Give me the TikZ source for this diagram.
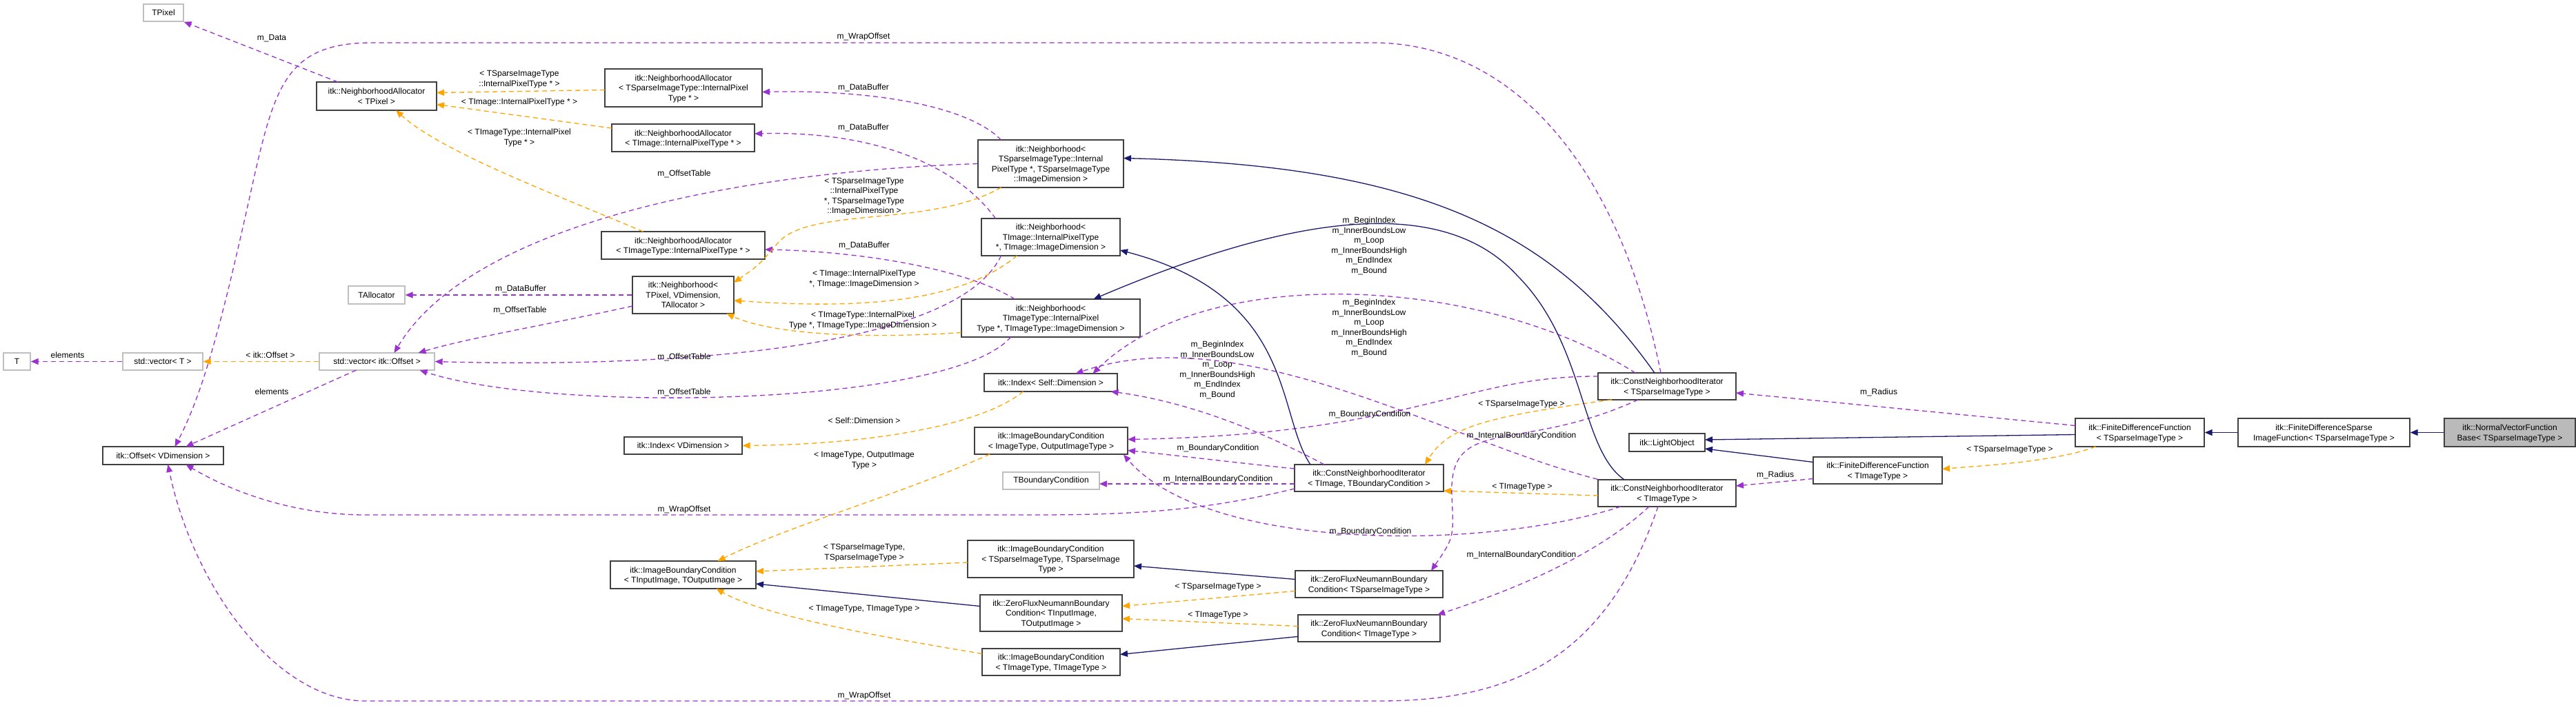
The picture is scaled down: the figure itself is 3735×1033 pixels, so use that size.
\documentclass[tikz,border=0pt]{standalone}
\usepackage{fontspec}
\setmainfont{Liberation Sans}
\usetikzlibrary{arrows.meta,calc}
\definecolor{usec}{HTML}{9A32CD}
\definecolor{tplc}{HTML}{FFA500}
\definecolor{inhc}{HTML}{191970}
\begin{document}
\begin{tikzpicture}[x=1pt,y=-1pt,
  font=\fontsize{12}{14.5}\selectfont,
  box/.style={draw=black!75,line width=1.3pt,fill=white,align=center,inner sep=0pt,text depth=0pt},
  gbox/.style={draw=black!25,line width=1.3pt,fill=white,align=center,inner sep=0pt},
  lbl/.style={align=center,inner sep=0pt,fill=none},
  use/.style={draw=usec,line width=1.3pt,dash pattern=on 7pt off 5pt,-{Triangle[length=11pt,width=9pt]}},
  tpl/.style={draw=tplc,line width=1.3pt,dash pattern=on 7pt off 5pt,-{Triangle[length=11pt,width=9pt]}},
  inh/.style={draw=inhc,line width=1.3pt,-{Triangle[length=11pt,width=9pt]}}]
\useasboundingbox (0,0) rectangle (3735,1033);
\fill[white] (0,0) rectangle (3735,1033);
% nodes
\node[gbox,minimum width=58,minimum height=25] (TPixel) at (237,18.5) {TPixel};
\node[box,minimum width=174,minimum height=41] (NAP) at (546,139.5) {itk::NeighborhoodAllocator\\< TPixel >};
\node[box,minimum width=228,minimum height=55] (NAS) at (991,127.5) {itk::NeighborhoodAllocator\\< TSparseImageType::InternalPixel\\Type * >};
\node[box,minimum width=207,minimum height=40] (NAI) at (990.5,200) {itk::NeighborhoodAllocator\\< TImage::InternalPixelType * >};
\node[box,minimum width=237,minimum height=40] (NAT) at (990.5,356) {itk::NeighborhoodAllocator\\< TImageType::InternalPixelType * >};
\node[gbox,minimum width=82,minimum height=26] (TAlloc) at (546,428) {TAllocator};
\node[box,minimum width=147,minimum height=54] (NbP) at (990.5,428) {itk::Neighborhood<\\TPixel, VDimension,\\TAllocator >};
\node[box,minimum width=211,minimum height=69] (NbS) at (1523.5,237.5) {itk::Neighborhood<\\TSparseImageType::Internal\\PixelType *, TSparseImageType\\::ImageDimension >};
\node[box,minimum width=201,minimum height=54] (NbI) at (1523.5,344) {itk::Neighborhood<\\TImage::InternalPixelType\\*, TImage::ImageDimension >};
\node[box,minimum width=259,minimum height=55] (NbT) at (1523.5,461.5) {itk::Neighborhood<\\TImageType::InternalPixel\\Type *, TImageType::ImageDimension >};
\node[box,minimum width=193,minimum height=26] (IdxS) at (1523.5,555) {itk::Index< Self::Dimension >};
\node[gbox,minimum width=39,minimum height=25] (T) at (24.5,524.5) {T};
\node[gbox,minimum width=116,minimum height=25] (VecT) at (236,524.5) {std::vector< T >};
\node[gbox,minimum width=167,minimum height=25] (VecO) at (546.5,524.5) {std::vector< itk::Offset >};
\node[box,minimum width=175,minimum height=26] (Off) at (236.5,661) {itk::Offset< VDimension >};
\node[box,minimum width=171,minimum height=25] (IdxV) at (990.5,646.5) {itk::Index< VDimension >};
\node[box,minimum width=222,minimum height=39] (IBCIO) at (1524,639.5) {itk::ImageBoundaryCondition\\< ImageType, OutputImageType >};
\node[gbox,minimum width=140,minimum height=25] (TBC) at (1524,697.5) {TBoundaryCondition};
\node[box,minimum width=211,minimum height=40] (IBCIn) at (990.5,834) {itk::ImageBoundaryCondition\\< TInputImage, TOutputImage >};
\node[box,minimum width=241,minimum height=54] (IBCS) at (1523.5,811) {itk::ImageBoundaryCondition\\< TSparseImageType, TSparseImage\\Type >};
\node[box,minimum width=206,minimum height=53] (ZFIO) at (1524,889.5) {itk::ZeroFluxNeumannBoundary\\Condition< TInputImage,\\TOutputImage >};
\node[box,minimum width=200,minimum height=39] (IBCT) at (1524,960.5) {itk::ImageBoundaryCondition\\< TImageType, TImageType >};
\node[box,minimum width=216,minimum height=39] (CNIB) at (1985,693.5) {itk::ConstNeighborhoodIterator\\< TImage, TBoundaryCondition >};
\node[box,minimum width=214,minimum height=39] (ZFS) at (1985,847.5) {itk::ZeroFluxNeumannBoundary\\Condition< TSparseImageType >};
\node[box,minimum width=206,minimum height=39] (ZFT) at (1985,911.5) {itk::ZeroFluxNeumannBoundary\\Condition< TImageType >};
\node[box,minimum width=200,minimum height=39] (CNIS) at (2417,560.5) {itk::ConstNeighborhoodIterator\\< TSparseImageType >};
\node[box,minimum width=110,minimum height=26] (Light) at (2417,642) {itk::LightObject};
\node[box,minimum width=200,minimum height=39] (CNIT) at (2417,715.5) {itk::ConstNeighborhoodIterator\\< TImageType >};
\node[box,minimum width=187,minimum height=39] (FDFT) at (2722.5,682.5) {itk::FiniteDifferenceFunction\\< TImageType >};
\node[box,minimum width=187,minimum height=41] (FDFS) at (3102.5,627.5) {itk::FiniteDifferenceFunction\\< TSparseImageType >};
\node[box,minimum width=249,minimum height=41] (FDSp) at (3369.5,627.5) {itk::FiniteDifferenceSparse\\ImageFunction< TSparseImageType >};
\node[box,fill=black!27,minimum width=190,minimum height=41] (NVF) at (3639,627.5) {itk::NormalVectorFunction\\Base< TSparseImageType >};
% usage edges
\draw[use] ($(NAP)+(-56,-20.5)$) -- (TPixel.south east);
\draw[use] ($(CNIS)+(-9,-19.5)$) .. controls (2350,250) and (2200,62) .. (1990,62) -- (540,62) .. controls (420,62) and (400,120) .. (370,250) .. controls (330,430) and (300,560) .. ($(Off)+(17,-13)$);
\draw[use] ($(VecO)+(-30,12.5)$) -- ($(Off)+(33,-13)$);
\draw[use] (VecT.west) -- (T.east);
\draw[use] (NbP.west) -- (TAlloc.east);
\draw[use] ($(NbP)+(-73.5,16)$) .. controls (800,470) and (680,490) .. ($(VecO)+(60,-12.5)$);
\draw[use] (NbS.west) .. controls (1050,250) and (680,330) .. ($(VecO)+(25,-12.5)$);
\draw[use] ($(NbI)+(-72,27)$) .. controls (1380,520) and (900,532) .. (VecO.east);
\draw[use] ($(NbT)+(-58,27.5)$) .. controls (1380,590) and (800,600) .. ($(VecO)+(62,12.5)$);
\draw[use] ($(NbS)+(-72,-34.5)$) .. controls (1400,150) and (1250,130) .. ($(NAS)+(114,6)$);
\draw[use] ($(NbI)+(-80,-27)$) .. controls (1380,230) and (1250,190) .. ($(NAI)+(103.5,-6)$);
\draw[use] ($(NbT)+(-52,-27.5)$) .. controls (1400,390) and (1250,365) .. ($(NAT)+(118.5,6)$);
\draw[use] ($(CNIS)+(-46,-19.5)$) .. controls (2150,400) and (1750,380) .. ($(IdxS)+(61,-13)$);
\draw[use] (CNIT.north west) .. controls (2100,640) and (1800,460) .. ($(IdxS)+(36,-13)$);
\draw[use] ($(CNIB)+(-65,-19.5)$) .. controls (1800,610) and (1700,580) .. ($(IdxS)+(87,13)$);
\draw[use] ($(CNIS)+(-100,-14.5)$) .. controls (2120,545) and (2050,630) .. ($(IBCIO)+(111,-2)$);
\draw[use] ($(CNIB)+(-108,-13.5)$) .. controls (1780,670) and (1700,660) .. ($(IBCIO)+(111,14)$);
\draw[use] ($(CNIT)+(-67,19.5)$) .. controls (2150,800) and (1750,800) .. ($(IBCIO)+(105,20)$);
\draw[use] ($(CNIB)+(-108,8.5)$) -- ($(TBC)+(70,4.5)$);
\draw[use] ($(CNIS)+(-42,19.5)$) .. controls (2200,660) and (2100,600) .. (2105,720) .. controls (2108,780) .. ($(ZFS)+(90,-19.5)$);
\draw[use] ($(CNIT)+(-26,19.5)$) .. controls (2300,820) and (2150,870) .. ($(ZFT)+(99,-19.5)$);
\draw[use] ($(CNIB)+(-108,15.5)$) .. controls (1750,740) and (1650,747) .. (1500,747) -- (530,747) .. controls (420,747) and (330,710) .. ($(Off)+(33,13)$);
\draw[use] ($(CNIT)+(-13,19.5)$) .. controls (2330,950) and (2200,1017) .. (2000,1017) -- (530,1017) .. controls (400,1017) and (280,850) .. ($(Off)+(7,13)$);
\draw[use] ($(FDFS)+(-93.5,-10)$) -- ($(CNIS)+(100,9.5)$);
\draw[use] ($(FDFT)+(-93.5,12)$) -- ($(CNIT)+(100,-10.5)$);
% template edges
\draw[tpl] ($(NAS)+(-114,3)$) -- ($(NAP)+(87,-5)$);
\draw[tpl] ($(NAI)+(-103.5,-14)$) -- ($(NAP)+(87,12)$);
\draw[tpl] ($(NAT)+(-58,-20)$) .. controls (800,280) and (640,220) .. ($(NAP)+(28,20.5)$);
\draw[tpl] (VecO.west) -- (VecT.east);
\draw[tpl] ($(NbS)+(-72,34.5)$) .. controls (1350,330) and (1180,300) .. (1130,350) .. controls (1100,385) .. ($(NbP)+(73.5,-18)$);
\draw[tpl] ($(NbI)+(-49,27)$) .. controls (1380,450) and (1200,445) .. ($(NbP)+(73.5,8)$);
\draw[tpl] ($(NbT)+(-129.5,21)$) .. controls (1250,492) and (1120,485) .. ($(NbP)+(63,27)$);
\draw[tpl] ($(IdxS)+(-40,13)$) .. controls (1420,620) and (1250,645) .. (IdxV.east);
\draw[tpl] ($(IBCIO)+(-89,19.5)$) .. controls (1300,720) and (1150,760) .. ($(IBCIn)+(50,-20)$);
\draw[tpl] ($(IBCS)+(-120.5,5)$) -- ($(IBCIn)+(105.5,-5)$);
\draw[tpl] ($(IBCT)+(-100,-12)$) .. controls (1250,920) and (1100,890) .. ($(IBCIn)+(48,20)$);
\draw[tpl] ($(ZFS)+(-107,10)$) -- ($(ZFIO)+(103,-10)$);
\draw[tpl] ($(ZFT)+(-103,-3)$) -- ($(ZFIO)+(103,8)$);
\draw[tpl] ($(CNIS)+(-80,19.5)$) .. controls (2150,605) and (2100,620) .. ($(CNIB)+(81,-19.5)$);
\draw[tpl] ($(CNIT)+(-100,3.5)$) -- ($(CNIB)+(108,18.5)$);
\draw[tpl] ($(FDFS)+(-64,20.5)$) .. controls (2980,670) and (2880,675) .. ($(FDFT)+(93.5,-2)$);
% inheritance edges
\draw[inh] ($(CNIS)+(-18,-19.5)$) .. controls (2250,330) and (2050,240) .. ($(NbS)+(105.5,-8)$);
\draw[inh] ($(CNIT)+(-62,-19.5)$) .. controls (2290,650) and (2300,500) .. (2200,400) .. controls (2100,290) and (1900,300) .. ($(NbT)+(62,-27.5)$);
\draw[inh] ($(CNIB)+(-85,-19.5)$) .. controls (1850,600) and (1880,430) .. ($(NbI)+(100.5,19)$);
\draw[inh] ($(ZFS)+(-107,-7)$) -- ($(IBCS)+(120.5,10)$);
\draw[inh] ($(ZFIO)+(-103,-10)$) -- ($(IBCIn)+(105.5,13)$);
\draw[inh] ($(ZFT)+(-103,12)$) -- ($(IBCT)+(100,-11)$);
\draw[inh] ($(FDFS)+(-93.5,3)$) -- ($(Light)+(55,-4)$);
\draw[inh] ($(FDFT)+(-93.5,-12)$) -- ($(Light)+(55,9)$);
\draw[inh] (FDSp.west) -- (FDFS.east);
\draw[inh] (NVF.west) -- (FDSp.east);
% labels
\node[lbl] (l1) at (394,56) {m\_Data};
\node[lbl] (l2) at (1252,53) {m\_WrapOffset};
\node[lbl] (l3) at (394,568) {elements};
\node[lbl] (l4) at (98,515) {elements};
\node[lbl] (l5) at (755,419) {m\_DataBuffer};
\node[lbl] (l6) at (754,450) {m\_OffsetTable};
\node[lbl] (l7) at (992,252) {m\_OffsetTable};
\node[lbl] (l8) at (992,518) {m\_OffsetTable};
\node[lbl] (l9) at (992,569) {m\_OffsetTable};
\node[lbl] (l10) at (1252,127) {m\_DataBuffer};
\node[lbl] (l11) at (1252,185) {m\_DataBuffer};
\node[lbl] (l12) at (1253,356) {m\_DataBuffer};
\node[lbl] (l13) at (1985,357) {m\_BeginIndex\\m\_InnerBoundsLow\\m\_Loop\\m\_InnerBoundsHigh\\m\_EndIndex\\m\_Bound};
\node[lbl] (l14) at (1985,476) {m\_BeginIndex\\m\_InnerBoundsLow\\m\_Loop\\m\_InnerBoundsHigh\\m\_EndIndex\\m\_Bound};
\node[lbl] (l15) at (1765,537) {m\_BeginIndex\\m\_InnerBoundsLow\\m\_Loop\\m\_InnerBoundsHigh\\m\_EndIndex\\m\_Bound};
\node[lbl] (l16) at (1986,601) {m\_BoundaryCondition};
\node[lbl] (l17) at (1766,650) {m\_BoundaryCondition};
\node[lbl] (l18) at (1987,771) {m\_BoundaryCondition};
\node[lbl] (l19) at (1766,695) {m\_InternalBoundaryCondition};
\node[lbl] (l20) at (2206,632) {m\_InternalBoundaryCondition};
\node[lbl] (l21) at (2206,805) {m\_InternalBoundaryCondition};
\node[lbl] (l22) at (992,739) {m\_WrapOffset};
\node[lbl] (l23) at (1253,1009) {m\_WrapOffset};
\node[lbl] (l24) at (2724,569) {m\_Radius};
\node[lbl] (l25) at (2574,689) {m\_Radius};
\node[lbl] (t1) at (753,115) {< TSparseImageType\\::InternalPixelType * >};
\node[lbl] (t2) at (753,148) {< TImage::InternalPixelType * >};
\node[lbl] (t3) at (753,200) {< TImageType::InternalPixel\\Type * >};
\node[lbl] (t4) at (392,515) {< itk::Offset >};
\node[lbl] (t5) at (1253,285) {< TSparseImageType\\::InternalPixelType\\*, TSparseImageType\\::ImageDimension >};
\node[lbl] (t6) at (1253,405) {< TImage::InternalPixelType\\*, TImage::ImageDimension >};
\node[lbl] (t7) at (1251,465) {< TImageType::InternalPixel\\Type *, TImageType::ImageDimension >};
\node[lbl] (t8) at (1253,610) {< Self::Dimension >};
\node[lbl] (t9) at (1253,668) {< ImageType, OutputImage\\Type >};
\node[lbl] (t10) at (1253,802) {< TSparseImageType,\\TSparseImageType >};
\node[lbl] (t11) at (1253,884) {< TImageType, TImageType >};
\node[lbl] (t12) at (1766,852) {< TSparseImageType >};
\node[lbl] (t13) at (1766,893) {< TImageType >};
\node[lbl] (t14) at (2206,587) {< TSparseImageType >};
\node[lbl] (t15) at (2207,707) {< TImageType >};
\node[lbl] (t16) at (2914,653) {< TSparseImageType >};
\end{tikzpicture}
\end{document}
